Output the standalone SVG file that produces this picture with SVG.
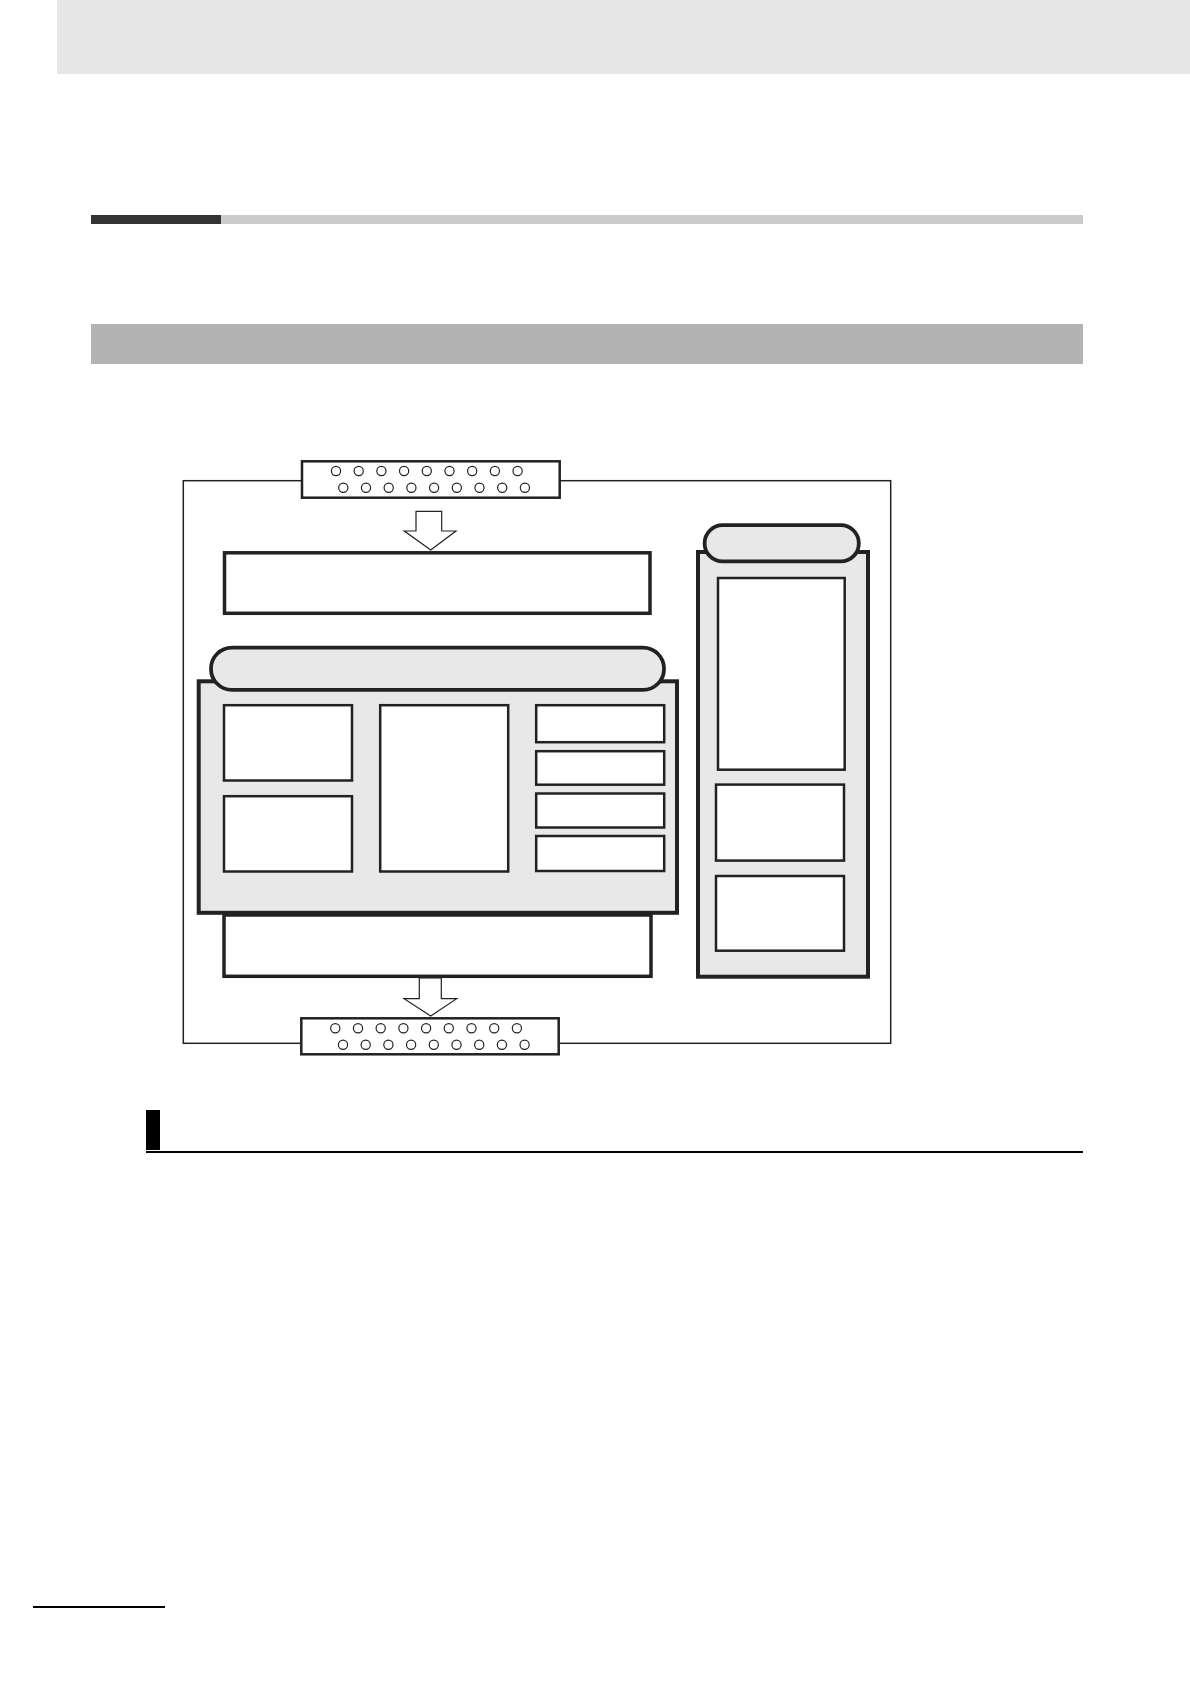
<svg xmlns="http://www.w3.org/2000/svg" width="1190" height="1684" viewBox="0 0 1190 1684">
<style>
.panel{fill:#e8e8e8;stroke:#222;stroke-width:4}
.box{fill:#fff;stroke:#222;stroke-width:3.5}
.inner{fill:#fff;stroke:#222;stroke-width:2.5}
.pill{fill:#e8e8e8;stroke:#222;stroke-width:3.8}
.conn{fill:#fff;stroke:#222;stroke-width:2.5}
.pin{fill:#fff;stroke:#222;stroke-width:1.2}
.arrow{fill:#fff;stroke:#222;stroke-width:1.2;stroke-linejoin:miter}
</style>
<defs>
<g id="pinrow">
<circle class="pin" cx="0" cy="0" r="4.6"/>
<circle class="pin" cx="22.7" cy="0" r="4.6"/>
<circle class="pin" cx="45.4" cy="0" r="4.6"/>
<circle class="pin" cx="68.1" cy="0" r="4.6"/>
<circle class="pin" cx="90.8" cy="0" r="4.6"/>
<circle class="pin" cx="113.5" cy="0" r="4.6"/>
<circle class="pin" cx="136.2" cy="0" r="4.6"/>
<circle class="pin" cx="158.9" cy="0" r="4.6"/>
<circle class="pin" cx="181.6" cy="0" r="4.6"/>
</g>
</defs>
<rect width="1190" height="1684" fill="#fff"/>
<g id="page">
<rect x="57" y="0" width="1133" height="74" fill="#e6e6e6"/>
<rect x="91" y="215" width="130" height="9" fill="#333"/>
<rect x="221" y="215" width="862" height="9" fill="#cbcbcb"/>
<rect x="91" y="324" width="992" height="40" fill="#b3b3b3"/>
<rect x="146" y="1110" width="14" height="40" fill="#000"/>
<rect x="146" y="1151" width="937" height="2" fill="#000"/>
<rect x="33" y="1606" width="132" height="2" fill="#000"/>
</g>
<g id="frame">
<rect x="183.3" y="480.7" width="707.4" height="562.6" fill="none" stroke="#222" stroke-width="1.5"/>
</g>
<g id="connectors">
<polygon class="arrow" points="416,511.3 441.7,511.3 441.7,531 456,531 430.7,550 404.3,531 416,531"/>
<polygon class="arrow" points="419.3,978 441.3,978 441.3,998.7 456.7,998.7 430.7,1016 404,998.7 419.3,998.7"/>
</g>
<g id="connector-top">
<rect class="conn" x="302" y="461.3" width="257.7" height="36.4"/>
<use href="#pinrow" x="336" y="471"/>
<use href="#pinrow" x="343.3" y="487.7"/>
</g>
<g id="connector-bottom">
<rect class="conn" x="301.3" y="1018.3" width="257.4" height="36"/>
<use href="#pinrow" x="335.3" y="1028.3"/>
<use href="#pinrow" x="343" y="1044.7"/>
</g>
<g id="box-top">
<rect class="box" x="224.5" y="552.8" width="425.5" height="60.5"/>
</g>
<g id="left-panel">
<rect class="panel" x="198.7" y="681.3" width="478.3" height="231.5"/>
<rect class="pill" x="211" y="647.6" width="453" height="42.3" rx="21" ry="21"/>
</g>
<g id="box-l1"><rect class="inner" x="224" y="705.2" width="128" height="75.3"/></g>
<g id="box-l2"><rect class="inner" x="224" y="796.2" width="128" height="75.3"/></g>
<g id="box-m"><rect class="inner" x="380.2" y="705.2" width="128" height="166.3"/></g>
<g id="box-r1"><rect class="inner" x="536.2" y="705.2" width="128" height="37"/></g>
<g id="box-r2"><rect class="inner" x="536.2" y="751.2" width="128" height="33.5"/></g>
<g id="box-r3"><rect class="inner" x="536.2" y="793.5" width="128" height="34"/></g>
<g id="box-r4"><rect class="inner" x="536.2" y="836" width="128" height="35"/></g>
<g id="box-bottom">
<rect class="box" x="224" y="915" width="427" height="61.3"/>
</g>
<g id="right-panel">
<rect class="panel" x="698" y="552" width="170" height="424.7"/>
<rect class="pill" x="704.6" y="525.2" width="154.2" height="36.2" rx="18" ry="18"/>
</g>
<g id="box-rp1"><rect class="inner" x="718" y="578" width="126.7" height="191.7"/></g>
<g id="box-rp2"><rect class="inner" x="716" y="784.6" width="128" height="76"/></g>
<g id="box-rp3"><rect class="inner" x="716" y="876" width="128" height="74.7"/></g>
</svg>
